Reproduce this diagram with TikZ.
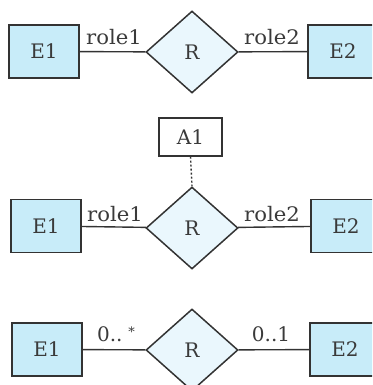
\documentclass[tikz,border=0pt]{standalone}
\usepackage{fontspec}
\setmainfont{DejaVu Serif}
\usetikzlibrary{shapes.geometric}
\definecolor{entfill}{HTML}{C8ECF9}
\definecolor{relfill}{HTML}{EAF7FD}
\definecolor{ink}{HTML}{333333}
\definecolor{txt}{HTML}{3A3A3A}
\tikzset{
  ent/.style={draw=ink, fill=entfill, line width=1.4pt, minimum width=70pt, minimum height=53pt, inner sep=0pt, text=txt, font=\fontsize{20}{23}\selectfont},
  rel/.style={diamond, draw=ink, fill=relfill, line width=1.5pt, minimum width=92pt, minimum height=82pt, inner sep=0pt, text=txt, font=\fontsize{20}{23}\selectfont},
  attr/.style={draw=ink, fill=white, line width=1.3pt, minimum width=63pt, minimum height=38pt, inner sep=0pt, text=txt, font=\fontsize{20}{23}\selectfont},
  conn/.style={draw=ink, line width=1.4pt},
  lbl/.style={anchor=base, inner sep=0pt, text=txt, font=\fontsize{20}{23}\selectfont}
}
\newcommand{\wide}[1]{\scalebox{1.06}[1]{#1}}
\begin{document}
\begin{tikzpicture}[x=1pt,y=-1pt]
\useasboundingbox (0,0) rectangle (372,385);
\begin{scope}
\clip (0,0) rectangle (372,385);
% row 1
\node[ent] (e1a) at (44,51.5) {E1};
\node[rel] (ra) at (192,52) {R};
\node[ent] (e2a) at (343,51.5) {E2};
\draw[conn] (e1a) -- (ra);
\draw[conn] (ra) -- (e2a);
\node[lbl] (l1a) at (114,45) {\wide{role1}};
\node[lbl] (l2a) at (272,45) {\wide{role2}};
% row 2
\node[attr] (a1) at (190.5,137) {A1};
\node[ent] (e1b) at (46,226) {E1};
\node[rel] (rb) at (192,228) {R};
\node[ent] (e2b) at (346,226) {E2};
\draw[conn] (e1b) -- (rb);
\draw[conn] (rb) -- (e2b);
\draw[draw=ink, line width=1.4pt, dash pattern=on 2pt off 2pt] (a1.south) -- (rb.north);
\node[lbl] (l1b) at (115,221) {\wide{role1}};
\node[lbl] (l2b) at (272,221) {\wide{role2}};
% row 3
\node[ent] (e1c) at (47,349.5) {E1};
\node[rel] (rc) at (192,350) {R};
\node[ent] (e2c) at (345,349.5) {E2};
\draw[conn] (e1c) -- (rc);
\draw[conn] (rc) -- (e2c);
\node[lbl] (l1c) at (116,341) {0..\hspace{6pt}\raisebox{5pt}{\fontsize{13}{15}\selectfont *}};
\node[lbl] (l2c) at (271,341) {0..1};
\end{scope}
\end{tikzpicture}
\end{document}
